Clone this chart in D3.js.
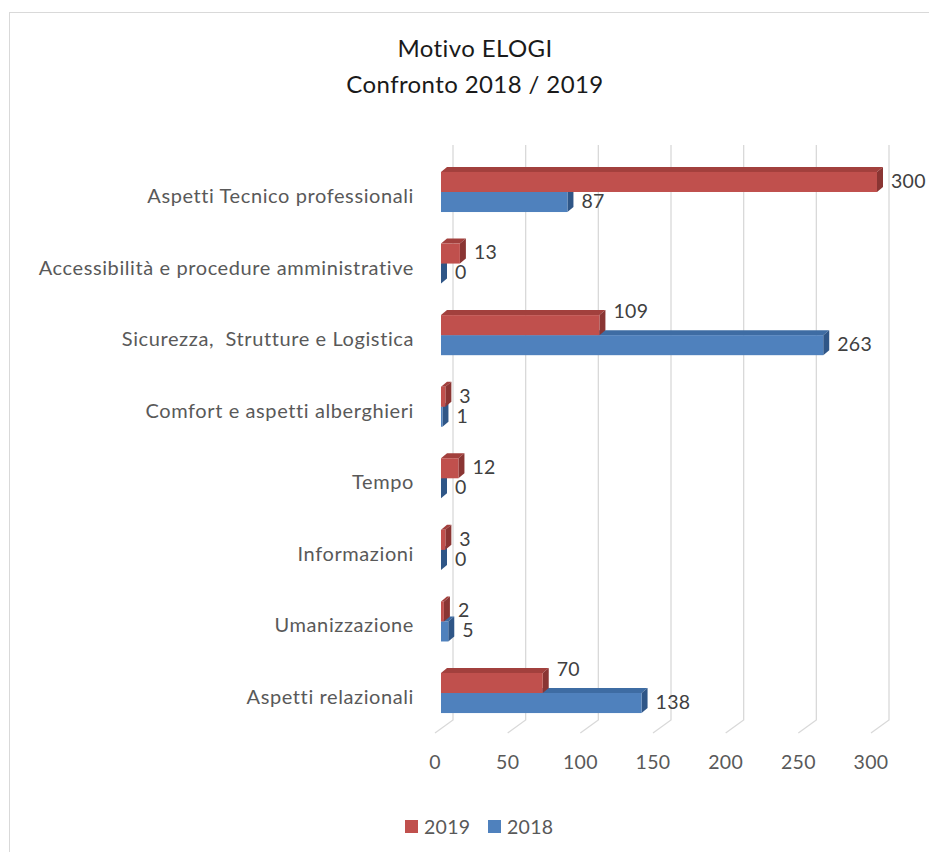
<!DOCTYPE html>
<html>
<head>
<meta charset="utf-8">
<script src="https://cdn.jsdelivr.net/npm/d3@7"></script>
<style>
  body { margin: 0; background: #fff; }
  text { font-family: Lato, "Open Sans", sans-serif; white-space: pre; }
</style>
</head>
<body>
<svg id="chart" width="929" height="852"></svg>
<script>
var categories = ["Aspetti Tecnico professionali", "Accessibilità e procedure amministrative",
  "Sicurezza,  Strutture e Logistica", "Comfort e aspetti alberghieri", "Tempo",
  "Informazioni", "Umanizzazione", "Aspetti relazionali"];
var values2019 = [300, 13, 109, 3, 12, 3, 2, 70];
var values2018 = [87, 0, 263, 1, 0, 0, 5, 138];
var xTicks = [0, 50, 100, 150, 200, 250, 300];
var seriesNames = ["2019", "2018"];

var svg = d3.select("#chart");

// chart frame
svg.append("rect")
    .attr("x", 9.5).attr("y", 12.5)
    .attr("width", 1000).attr("height", 1000)
    .attr("fill", "none")
    .attr("stroke", "#d9d9d9");

var x = d3.scaleLinear().domain([0, 300]).range([441, 877]);
var y = d3.scaleBand().domain(categories).range([156.2, 728.8]);

var depth = {dx: 6, dy: -5};      // bar depth
var wall = {dx: 12, top: 145, bottom: 720};
var floorFront = {dx: -6, y: 733};

// gridlines on back wall + floor
var grid = svg.append("g").attr("class", "grid");
grid.selectAll("path")
    .data(xTicks)
  .enter().append("path")
    .attr("fill", "none")
    .attr("stroke", "#d9d9d9")
    .attr("stroke-width", 1.3)
    .attr("d", function(d) {
      return "M" + (x(d) + wall.dx) + "," + wall.top +
             "L" + (x(d) + wall.dx) + "," + wall.bottom +
             "L" + (x(d) + floorFront.dx) + "," + floorFront.y;
    });

// tick labels
svg.append("g").selectAll("text")
    .data(xTicks)
  .enter().append("text")
    .attr("x", function(d) { return x(d) + floorFront.dx; })
    .attr("y", 769)
    .attr("text-anchor", "middle")
    .attr("fill", "#595959")
    .style("font-size", "19.5px")
    .style("letter-spacing", "0.3px")
    .text(function(d) { return d; });

// category labels
svg.append("g").selectAll("text")
    .data(categories)
  .enter().append("text")
    .attr("x", 414)
    .attr("y", function(d) { return y(d) + y.bandwidth() / 2 + 4; })
    .attr("dy", "0.35em")
    .attr("text-anchor", "end")
    .attr("fill", "#595959")
    .style("font-size", "20px")
    .style("letter-spacing", "0.6px")
    .text(function(d) { return d; });

var barH = y.bandwidth() * 0.28;
var colors = {
  "2019": {front: "#C0504D", top: "#A2403D", side: "#8A3533"},
  "2018": {front: "#4F81BD", top: "#3E6CA3", side: "#2F5687"}
};

function barData(vals, name, offset, other) {
  return vals.map(function(v, i) {
    // lift the upper label when the lower bar's top face runs under it
    var lift = other && x(other[i]) + depth.dx > x(v) + depth.dx + 8 ? 13 : 0;
    return {name: name, cat: categories[i], value: v, lift: lift,
            y0: y(categories[i]) + y.bandwidth() / 2 + offset};
  });
}

var data2018 = barData(values2018, "2018", 0, null);
var data2019 = barData(values2019, "2019", -barH, values2018);

function drawBars(data) {
  var g = svg.append("g").selectAll("g")
      .data(data)
    .enter().append("g");

  g.append("path")
      .attr("fill", function(d) { return colors[d.name].top; })
      .attr("d", function(d) {
        var x0 = x(0), x1 = x(d.value);
        return "M" + x0 + "," + d.y0 + "L" + (x0 + depth.dx) + "," + (d.y0 + depth.dy) +
               "L" + (x1 + depth.dx) + "," + (d.y0 + depth.dy) + "L" + x1 + "," + d.y0 + "Z";
      });

  g.append("path")
      .attr("fill", function(d) { return colors[d.name].side; })
      .attr("d", function(d) {
        var x1 = x(d.value);
        return "M" + x1 + "," + d.y0 + "L" + (x1 + depth.dx) + "," + (d.y0 + depth.dy) +
               "L" + (x1 + depth.dx) + "," + (d.y0 + barH + depth.dy) + "L" + x1 + "," + (d.y0 + barH) + "Z";
      });

  g.append("rect")
      .attr("x", x(0))
      .attr("y", function(d) { return d.y0; })
      .attr("width", function(d) { return x(d.value) - x(0); })
      .attr("height", barH)
      .attr("fill", function(d) { return colors[d.name].front; });

  g.append("text")
      .attr("x", function(d) { return x(d.value) + depth.dx + 8; })
      .attr("y", function(d) { return d.y0 + barH / 2 - 1 - d.lift; })
      .attr("dy", "0.35em")
      .attr("fill", "#404040")
      .style("font-size", "19.5px")
      .style("letter-spacing", "0.3px")
      .text(function(d) { return d.value; });
}

drawBars(data2018);
drawBars(data2019);

// title
var title = svg.append("text")
    .attr("text-anchor", "middle")
    .attr("fill", "#1a1a1a")
    .style("font-size", "24px")
    .style("letter-spacing", "0.4px");
title.append("tspan").attr("x", 475).attr("y", 57).text("Motivo ELOGI");
title.append("tspan").attr("x", 475).attr("y", 93).text("Confronto 2018 / 2019");

// legend
var legendX = [405, 488];
var legend = svg.append("g").selectAll("g")
    .data(seriesNames)
  .enter().append("g")
    .attr("transform", function(d, i) { return "translate(" + legendX[i] + ",820)"; });
legend.append("rect")
    .attr("width", 13).attr("height", 13)
    .attr("fill", function(d) { return colors[d].front; });
legend.append("text")
    .attr("x", 19).attr("y", 7)
    .attr("dy", "0.35em")
    .attr("fill", "#595959")
    .style("font-size", "19.5px")
    .style("letter-spacing", "0.3px")
    .text(function(d) { return d; });
</script>
</body>
</html>
